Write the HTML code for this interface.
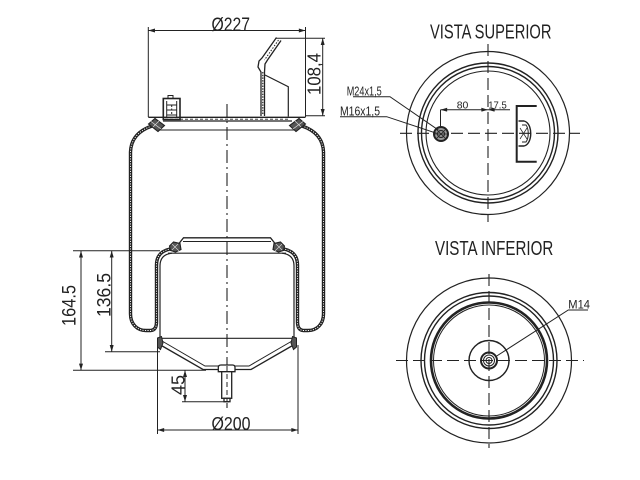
<!DOCTYPE html>
<html><head><meta charset="utf-8"><style>
html,body{margin:0;padding:0;background:#fff;}
svg{display:block;}
text{font-family:"Liberation Sans",sans-serif;fill:#222;}
</style></head><body>
<svg width="640" height="480" viewBox="0 0 640 480" xmlns="http://www.w3.org/2000/svg">
<defs>
<marker id="a" viewBox="0 0 10 6" refX="10" refY="3" markerWidth="7" markerHeight="4" orient="auto-start-reverse" markerUnits="userSpaceOnUse"><path d="M0 0 L10 3 L0 6z" fill="#222"/></marker>
</defs>
<rect width="640" height="480" fill="#fff"/>

<!-- ============ SIDE VIEW ============ -->
<g fill="none" stroke="#222" stroke-width="1">
  <line x1="148.3" y1="27" x2="148.3" y2="117"/>
  <line x1="305.5" y1="27" x2="305.5" y2="117"/>
  <line x1="148.3" y1="30.5" x2="305.5" y2="30.5" marker-start="url(#a)" marker-end="url(#a)"/>
  <line x1="276" y1="38.3" x2="325" y2="38.3"/>
  <line x1="305.5" y1="115.7" x2="325" y2="115.7"/>
  <line x1="322.7" y1="38.3" x2="322.7" y2="115.7" marker-start="url(#a)" marker-end="url(#a)"/>

  <line x1="148.3" y1="117.3" x2="305.5" y2="117.3" stroke-width="1.4"/>
  <line x1="163" y1="121" x2="292" y2="121" stroke-width="1.2"/>
  <line x1="165" y1="119.2" x2="290" y2="119.2" stroke-dasharray="3 2" stroke-width="0.8"/>
  <line x1="160" y1="130" x2="294" y2="130"/>

  <rect x="163.3" y="98.5" width="16.7" height="21" stroke-width="1.6"/>
  <rect x="168" y="95.5" width="5" height="3"/>
  <line x1="166.7" y1="101" x2="166.7" y2="118"/>
  <line x1="176.7" y1="101" x2="176.7" y2="118"/>
  <line x1="166.7" y1="105" x2="176.7" y2="105"/>
  <line x1="166.7" y1="110" x2="176.7" y2="110"/>
  <line x1="166.7" y1="115" x2="176.7" y2="115"/>
  <line x1="171.7" y1="105" x2="171.7" y2="115" stroke-dasharray="2 1.5"/>

  <path d="M276.5 37.5 L262 58 L259 61 L258 67 L261 72 L261 116" stroke-width="1.3"/>
  <path d="M281 40.5 L267.5 60 L265 64 L264.5 72 L264.5 116" stroke-width="1.3"/>
  <path d="M278.5 40 L264.5 60" stroke-dasharray="1.5 1.5"/>
  <line x1="262.8" y1="72" x2="262.8" y2="115" stroke-dasharray="1.5 1.2" stroke-width="1.2"/>
  <path d="M265 75 L288.3 86.7 L288.3 116.5" stroke-width="1.2"/>

  <line x1="227" y1="104" x2="227" y2="408" stroke-dasharray="13 4 2 4" stroke-width="1.1"/>
</g>

<g id="halfL">
  <g fill="none" stroke="#222">
    <path d="M152 126 C140 130 131 138 130.5 152 L130.5 314 C130.5 324 137 330.5 146 330.5 L151 330.5 C155 330 156.5 327 156.5 322 L156.5 265 C156.5 256 161 251 170 249" stroke-width="3.4"/>
    <path d="M152 126 C140 130 131 138 130.5 152 L130.5 314 C130.5 324 137 330.5 146 330.5 L151 330.5 C155 330 156.5 327 156.5 322 L156.5 265 C156.5 256 161 251 170 249" stroke="#fff" stroke-width="0.9" stroke-dasharray="1.2 1.3"/>
    <path d="M160 338.3 L160 266 C160 258 164 254 172 253.2" stroke-width="1.2"/>
    <line x1="168" y1="253.2" x2="227" y2="253.2" stroke-width="1.2"/>
    <line x1="160" y1="338.3" x2="227" y2="338.3" stroke-width="1.2"/>
    <path d="M177 246 L183.5 237.8 L227 237.8" stroke-width="1.3"/>
    <line x1="183" y1="241.5" x2="227" y2="241.5" stroke-width="0.9"/>
    <path d="M160.5 345 L203 369.5 L227 369.5" stroke-width="1.3"/>
    <path d="M162 341 L205 366 L227 366" stroke-width="1"/>
  </g>
  <polygon points="148.5,124 155,118.5 164.5,125.5 158,131.5" fill="#555" stroke="#222" stroke-width="1.1"/>
  <path d="M151 121.5 L161 129 M153 127 L159 121" stroke="#ddd" stroke-width="0.7"/>
  <polygon points="169.5,246 173.5,242 180,243.5 181,249.5 175.5,252 170.5,250.5" fill="#555" stroke="#222" stroke-width="1.1"/>
  <path d="M172 244 L179 251 M172 250 L178 244" stroke="#ddd" stroke-width="0.6"/>
  <polygon points="157.5,338 161.5,336.5 163,343 160.5,349.5 157.5,347" fill="#555" stroke="#222" stroke-width="1"/>
</g>
<use href="#halfL" transform="translate(454 0) scale(-1 1)"/>

<g fill="#fff" stroke="#222" stroke-width="1.3">
  <path d="M218.3 371.7 L218.3 367.5 Q218.3 365 221 365 L232.5 365 Q235 365 235 367.5 L235 371.7 Z"/>
  <rect x="221.7" y="371.7" width="10" height="26.6"/>
  <rect x="224" y="398.3" width="6" height="3.4"/>
</g>
<line x1="227" y1="366" x2="227" y2="402" stroke="#222" stroke-dasharray="5 3" stroke-width="1"/>

<g fill="none" stroke="#222" stroke-width="1">
  <line x1="73" y1="250.8" x2="160" y2="250.8"/>
  <line x1="73" y1="370.3" x2="206" y2="370.3"/>
  <line x1="105" y1="351.7" x2="160" y2="351.7"/>
  <line x1="81" y1="250.8" x2="81" y2="370.3" marker-start="url(#a)" marker-end="url(#a)"/>
  <line x1="111.7" y1="250.8" x2="111.7" y2="351.7" marker-start="url(#a)" marker-end="url(#a)"/>
  <line x1="182" y1="401.7" x2="229" y2="401.7"/>
  <line x1="185" y1="370.3" x2="185" y2="401.7" marker-start="url(#a)" marker-end="url(#a)"/>
  <line x1="157.5" y1="345" x2="157.5" y2="434"/>
  <line x1="298" y1="345" x2="298" y2="434"/>
  <line x1="157.5" y1="430" x2="298" y2="430" marker-start="url(#a)" marker-end="url(#a)"/>
</g>

<text x="211.5" y="31" font-size="19" textLength="38.5" lengthAdjust="spacingAndGlyphs">Ø227</text>
<text x="211.5" y="430" font-size="18" textLength="39" lengthAdjust="spacingAndGlyphs">Ø200</text>
<text transform="translate(320.5 95) rotate(-90)" font-size="18.5" textLength="42" lengthAdjust="spacingAndGlyphs">108,4</text>
<text transform="translate(75.5 326) rotate(-90)" font-size="19.5" textLength="41" lengthAdjust="spacingAndGlyphs">164.5</text>
<text transform="translate(110.3 317) rotate(-90)" font-size="19.5" textLength="44" lengthAdjust="spacingAndGlyphs">136.5</text>
<text transform="translate(184.5 395) rotate(-90)" font-size="18.5" textLength="20" lengthAdjust="spacingAndGlyphs">45</text>

<!-- ============ VISTA SUPERIOR ============ -->
<text x="430" y="38.3" font-size="20.5" textLength="121.5" lengthAdjust="spacingAndGlyphs" fill="#333">VISTA SUPERIOR</text>
<g fill="none" stroke="#222">
  <circle cx="488" cy="133" r="81.5" stroke-width="1.2"/>
  <circle cx="488" cy="133" r="70" stroke-width="1.4"/>
  <circle cx="488" cy="133" r="66.5" stroke-width="1.4"/>
  <circle cx="488" cy="133" r="62" stroke-width="1.1"/>
  <line x1="400" y1="133.3" x2="580" y2="133.3" stroke-dasharray="12 5" stroke-width="1.1"/>
  <line x1="488" y1="44" x2="488" y2="222" stroke-dasharray="12 5" stroke-width="1.1"/>
  <circle cx="441" cy="134" r="7" stroke-width="2" fill="#999"/>
  <circle cx="441" cy="134" r="3.5" stroke-width="1"/>
  <path d="M436 129 L446 139 M436 139 L446 129 M434 134 L448 134" stroke-width="0.8"/>
  <line x1="440.5" y1="109.7" x2="440.5" y2="127"/>
  <line x1="440.5" y1="109.7" x2="488" y2="109.7" marker-start="url(#a)" marker-end="url(#a)"/>
  <line x1="488" y1="109.7" x2="510" y2="109.7" marker-start="url(#a)"/>
  <path d="M536.7 106 L516.7 106 L516.7 161.7 L536.7 161.7" stroke-width="2"/>
  <path d="M518.5 121 L524 121 C533 123 533 144 524 146 L518.5 146" stroke-width="1.4"/>
  <path d="M522 125 L526 125 C529 129 529 138 526 142 L522 142" stroke-width="1"/>
  <path d="M520 128 L527 139 M520 139 L527 128" stroke-width="0.7"/>
  <polyline points="353,96.7 390,96.7 438.3,130" stroke-width="1"/>
  <polyline points="340,116.7 386.7,116.7 436.7,133.3" stroke-width="1"/>
</g>
<text x="346.7" y="95.5" font-size="12.5" textLength="35" lengthAdjust="spacingAndGlyphs">M24x1,5</text>
<text x="340" y="115.5" font-size="12.5" textLength="40" lengthAdjust="spacingAndGlyphs">M16x1,5</text>
<text x="456.7" y="108.5" font-size="10.5" textLength="11.6" lengthAdjust="spacingAndGlyphs">80</text>
<text x="488.3" y="108.5" font-size="10.5" textLength="18.4" lengthAdjust="spacingAndGlyphs">17.5</text>

<!-- ============ VISTA INFERIOR ============ -->
<text x="435" y="255" font-size="20.5" textLength="118.3" lengthAdjust="spacingAndGlyphs" fill="#333">VISTA INFERIOR</text>
<g fill="none" stroke="#222">
  <circle cx="489" cy="360.5" r="82.5" stroke-width="1.2"/>
  <circle cx="489" cy="360.5" r="68" stroke-width="1.4"/>
  <circle cx="489" cy="360.5" r="64.5" stroke-width="1.4"/>
  <circle cx="489" cy="360.5" r="58" stroke-width="2.6"/>
  <circle cx="489" cy="360.5" r="55.5" stroke-width="1"/>
  <circle cx="489" cy="360.5" r="20" stroke-width="1.4"/>
  <circle cx="489" cy="360.5" r="8" stroke-width="2"/>
  <circle cx="489" cy="360.5" r="5.5" stroke-width="1"/>
  <circle cx="489" cy="360.5" r="3" stroke-width="1"/>
  <line x1="396" y1="360.5" x2="584" y2="360.5" stroke-dasharray="12 5" stroke-width="1.1"/>
  <line x1="489" y1="274" x2="489" y2="448" stroke-dasharray="12 5" stroke-width="1.1"/>
  <polyline points="496.7,356 568.3,310 588,310" stroke-width="1"/>
</g>
<text x="568.3" y="308.5" font-size="11.5" textLength="21.7" lengthAdjust="spacingAndGlyphs">M14</text>
</svg>
</body></html>
